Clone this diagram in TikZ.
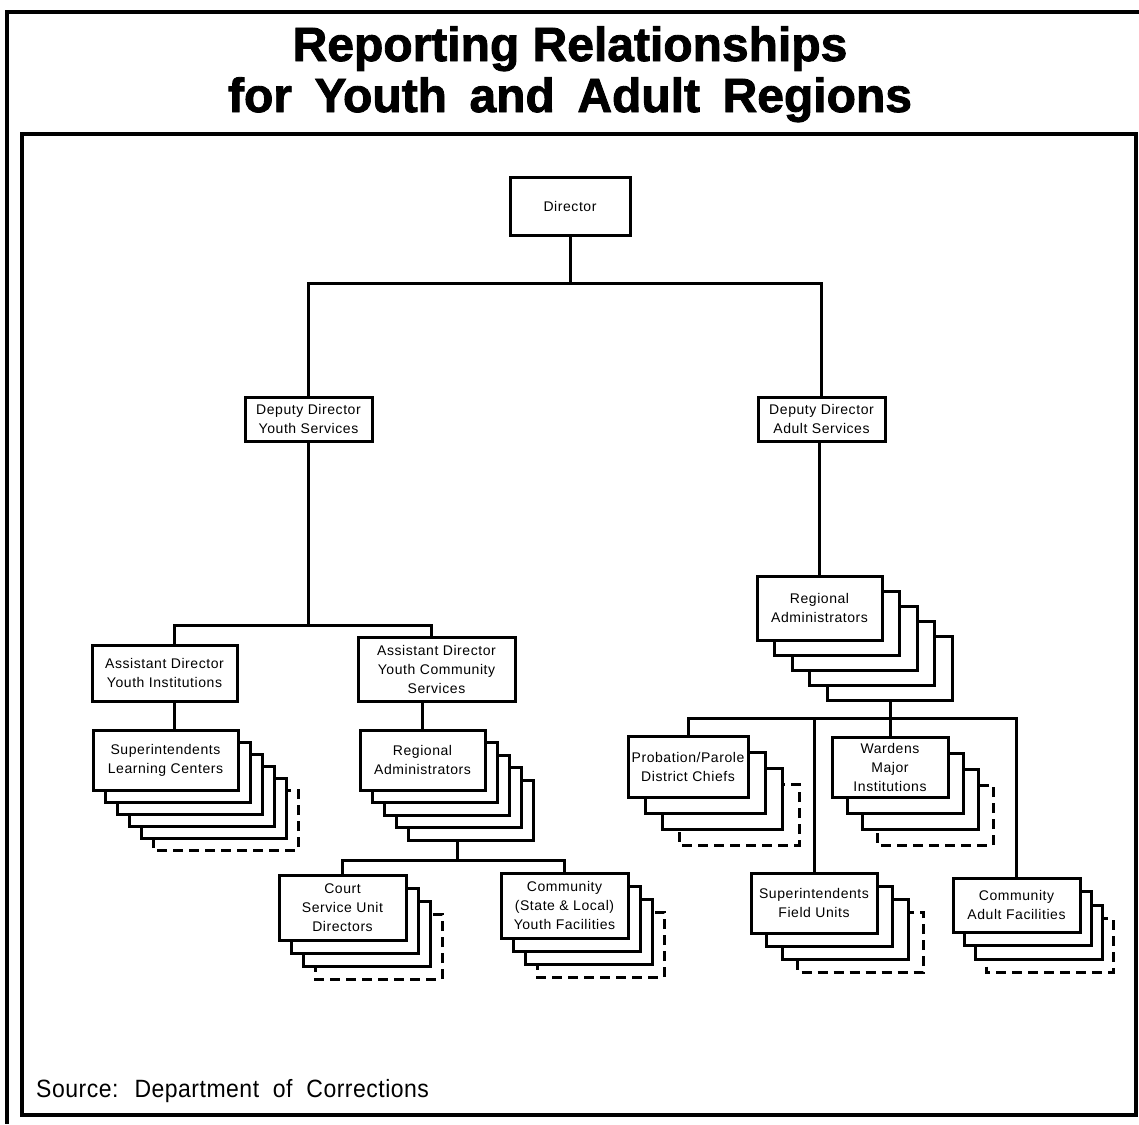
\documentclass[tikz,border=0pt]{standalone}
\usepackage{fontspec}
\setmainfont{Liberation Sans}[LetterSpace=4]
\newfontfamily\ttlfont{Liberation Sans}[BoldFeatures={FakeBold=1.8}]
\newfontfamily\srcfont{Liberation Sans}[FakeStretch=0.92,LetterSpace=2,WordSpace=2]

% A stack of cards: back layers first (the backmost one in style "backmost"),
% then the front box carrying the text.
% #1 name, #2 left, #3 top, #4 width, #5 height, #6 number of back layers,
% #7 x step, #8 y step, #9 text
\newcommand\cardstack[9]{%
  \path[layer, backmost] (#2+#6*#7, #3+#6*#8) rectangle ++(#4,#5);
  \pgfmathtruncatemacro\cardnext{#6-1}
  \foreach \k in {\cardnext,...,1}{
    \path[layer] (#2+\k*#7, #3+\k*#8) rectangle ++(#4,#5);
  }
  \node[box, anchor=north west, minimum width=#4pt, minimum height=#5pt] (#1) at (#2,#3) {#9};
}

\begin{document}
\begin{tikzpicture}[x=1pt, y=-1pt,
  box/.style={draw, line width=3pt, outer sep=0pt, fill=white, align=center, inner sep=2pt,
    font=\fontsize{14}{19}\selectfont},
  layer/.style={draw, line width=3pt, fill=white},
  backmost/.style={dash pattern=on 10pt off 6pt},
  link/.style={line width=3pt},
  frame/.style={line width=3.6pt},
  title/.style={align=center, inner sep=0pt,
    font=\ttlfont\bfseries\fontsize{48}{51}\selectfont}]

\useasboundingbox (0,0) rectangle (1139,1124);

% frames
\draw[frame] (1139,12) -- (7,12) -- (7,1124);
\draw[frame] (22,134) rectangle (1136,1115);

% heading: two lines, baselines 51pt apart
\node[title] (ttl) at (570,86.5) {\smash{Reporting Relationships}\\
  \smash{for\hspace{0.47em}Youth\hspace{0.47em}and\hspace{0.47em}Adult\hspace{0.47em}Regions}};

% top levels
\node[box, anchor=north west, minimum width=120pt, minimum height=58pt] (dir) at (510,177) {Director};
\node[box, anchor=north west, minimum width=127pt, minimum height=44pt] (dy) at (245,397) {Deputy Director\\Youth Services};
\node[box, anchor=north west, minimum width=127pt, minimum height=44pt] (da) at (758,397) {Deputy Director\\Adult Services};

% youth side
\node[box, anchor=north west, minimum width=145pt, minimum height=56pt] (ayi) at (92,645) {Assistant Director\\Youth Institutions};
\node[box, anchor=north west, minimum width=157pt, minimum height=64pt] (ycs) at (358,637) {Assistant Director\\Youth Community\\Services};

\cardstack{slc}{93}{730}{145}{60}{5}{12}{12}{Superintendents\\Learning Centers}
\begin{scope}[backmost/.style={}]
\cardstack{yra}{360}{730}{125}{60}{4}{12}{12.5}{Regional\\Administrators}
\end{scope}
\cardstack{court}{279}{875}{127}{65}{3}{12}{13}{Court\\Service Unit\\Directors}
\cardstack{cyouth}{501}{873}{127}{65}{3}{12}{13}{Community\\(State \& Local)\\Youth Facilities}

% adult side
\begin{scope}[backmost/.style={}]
\cardstack{ara}{757}{576}{125}{64}{4}{17.5}{15}{Regional\\Administrators}
\end{scope}
\cardstack{prob}{628}{736}{120}{61}{3}{17}{16}{Probation/Parole\\District Chiefs}
\cardstack{ward}{832}{737}{116}{60}{3}{15}{16}{Wardens\\Major\\Institutions}
\cardstack{sfu}{751}{873}{126}{60}{3}{15.5}{13}{Superintendents\\Field Units}
\cardstack{cadult}{953}{878}{127}{54}{3}{11}{13.5}{Community\\Adult Facilities}

% connectors
\coordinate (yj) at (308,283);
\coordinate (aj0) at (822,283);
\draw[link] (dir.south) -- (dir.south |- yj);
\draw[link] (dy.north) -- (dy.north |- yj) -- (da.north |- aj0) -- (da.north);

\coordinate (yl) at (174,625);
\coordinate (yr) at (431,625);
\draw[link] (dy.south) -- (dy.south |- yl);
\draw[link] (ayi.north -| yl) -- (yl) -- (yr) -- (ycs.north -| yr);
\draw[link] (ayi.south -| yl) -- (slc.north -| yl);
\draw[link] (yra.north) -- (yra.north |- ycs.south);

\coordinate (yrb) at (457,840);
\coordinate (yrj) at (457,860);
\draw[link] (yrb) -- (yrj);
\draw[link] (court.north) -- (court.north |- yrj) -- (cyouth.north |- yrj) -- (cyouth.north);

\draw[link] (ara.north) -- (ara.north |- da.south);
\coordinate (arb) at (890,700);
\coordinate (aj) at (890,718);
\draw[link] (arb) -- (arb |- ward.north);
\draw[link] (prob.north) -- (prob.north |- aj) -- (cadult.north |- aj) -- (cadult.north);
\draw[link] (sfu.north) -- (sfu.north |- aj);

% source line
\node[anchor=base west, inner sep=0pt, font=\srcfont\fontsize{25}{29}\selectfont] (src) at (36,1097) {Source: Department of Corrections};
\end{tikzpicture}
\end{document}
